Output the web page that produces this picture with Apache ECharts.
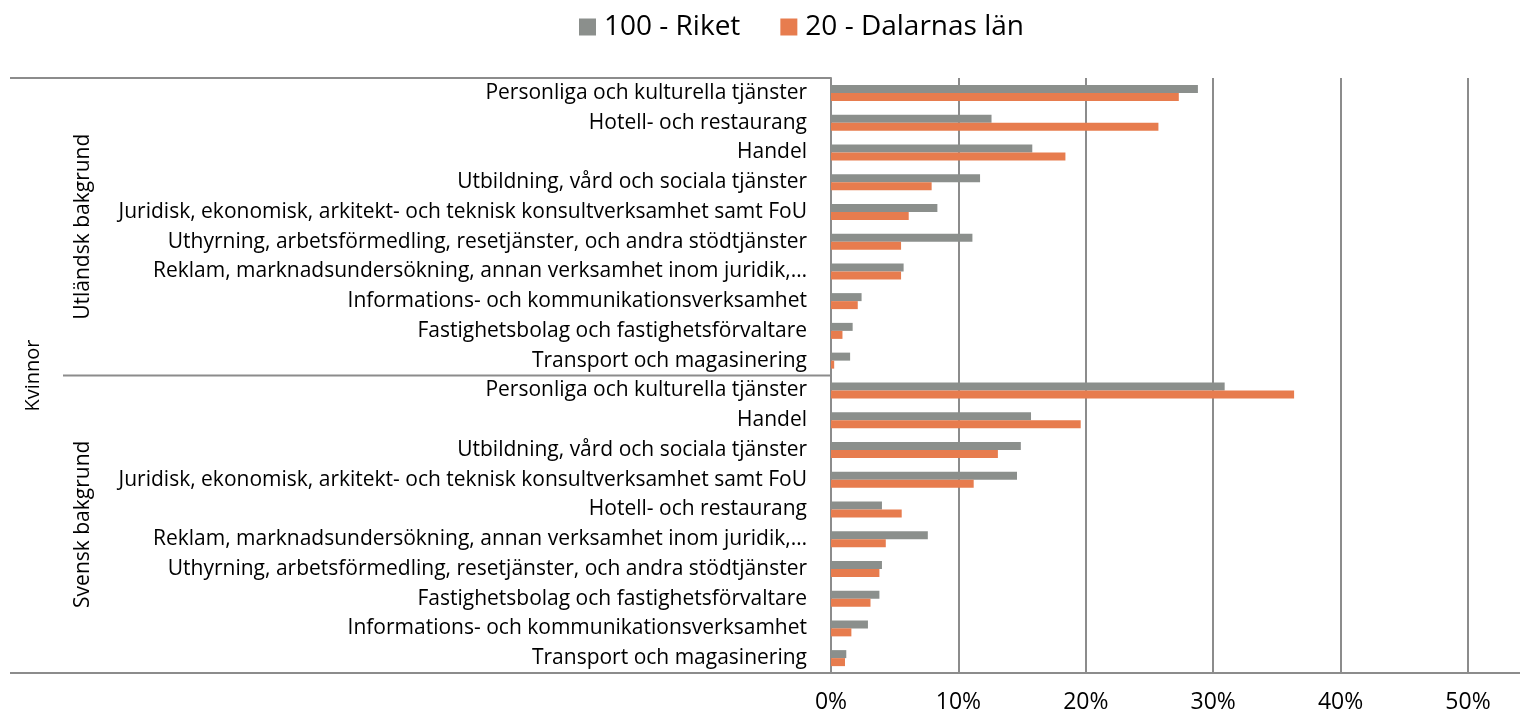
<!DOCTYPE html>
<html>
<head>
<meta charset="utf-8">
<script src="https://cdn.jsdelivr.net/npm/echarts@6/dist/echarts.min.js"></script>
<style>
	html,body{margin:0;padding:0;background:#fff;}
	#chart{width:1529px;height:718px;}
</style>
</head>
<body>
<div id="chart"></div>
<script>
var seriesNames = ['100 - Riket', '20 - Dalarnas län'];
var groupNames = ['Utländsk bakgrund', 'Svensk bakgrund'];
var outerName = 'Kvinnor';

var labelsUtl = [
	'Personliga och kulturella tjänster',
	'Hotell- och restaurang',
	'Handel',
	'Utbildning, vård och sociala tjänster',
	'Juridisk, ekonomisk, arkitekt- och teknisk konsultverksamhet samt FoU',
	'Uthyrning, arbetsförmedling, resetjänster, och andra stödtjänster',
	'Reklam, marknadsundersökning, annan verksamhet inom juridik,…',
	'Informations- och kommunikationsverksamhet',
	'Fastighetsbolag och fastighetsförvaltare',
	'Transport och magasinering'
];
var labelsSve = [
	'Personliga och kulturella tjänster',
	'Handel',
	'Utbildning, vård och sociala tjänster',
	'Juridisk, ekonomisk, arkitekt- och teknisk konsultverksamhet samt FoU',
	'Hotell- och restaurang',
	'Reklam, marknadsundersökning, annan verksamhet inom juridik,…',
	'Uthyrning, arbetsförmedling, resetjänster, och andra stödtjänster',
	'Fastighetsbolag och fastighetsförvaltare',
	'Informations- och kommunikationsverksamhet',
	'Transport och magasinering'
];

var riketUtl   = [0.288, 0.126, 0.158, 0.117, 0.0835, 0.111, 0.057, 0.024, 0.017, 0.015];
var dalarnaUtl = [0.273, 0.257, 0.184, 0.079, 0.061, 0.055, 0.055, 0.021, 0.009, 0.0025];
var riketSve   = [0.309, 0.157, 0.149, 0.146, 0.040, 0.076, 0.040, 0.038, 0.029, 0.012];
var dalarnaSve = [0.3635, 0.196, 0.131, 0.112, 0.0555, 0.043, 0.038, 0.031, 0.016, 0.011];

var xTicks = [0, 0.1, 0.2, 0.3, 0.4, 0.5];

// layout
var gridLeft = 831, gridTop = 78, gridBottomY = 673, gridRightX = 1468;
var lineColor = '#8c8c8c';
var font = '"Open Sans", "Noto Sans", sans-serif';

var labels = labelsUtl.concat(labelsSve);
var keys = labels.map(function(l, i){ return 'c' + i; });

var chart = echarts.init(document.getElementById('chart'));

var midY = (gridTop + gridBottomY) / 2;

chart.setOption({
	animation: false,
	textStyle: {fontFamily: font},
	legend: {
		data: seriesNames,
		top: 8,
		left: 574,
		icon: 'rect',
		itemWidth: 17,
		itemHeight: 17,
		itemGap: 40,
		textStyle: {fontSize: 28, lineHeight: 28, color: '#000', fontFamily: font, padding: [0, 0, 0, 3]}
	},
	grid: {
		left: gridLeft,
		top: gridTop,
		width: gridRightX - gridLeft,
		height: gridBottomY - gridTop
	},
	xAxis: {
		type: 'value',
		min: xTicks[0],
		max: xTicks[xTicks.length - 1],
		interval: 0.1,
		axisLine: {show: false},
		axisTick: {show: false},
		splitLine: {lineStyle: {color: lineColor, width: 2}},
		axisLabel: {
			fontSize: 23,
			color: '#000',
			margin: 18,
			formatter: function(v){ return Math.round(v * 100) + '%'; }
		}
	},
	yAxis: {
		type: 'category',
		inverse: true,
		data: keys,
		axisLine: {lineStyle: {color: lineColor, width: 2}},
		axisTick: {show: false},
		axisLabel: {
			fontSize: 21,
			color: '#000',
			margin: 24,
			formatter: function(v, i){ return labels[i]; }
		}
	},
	series: [
		{
			name: seriesNames[0],
			type: 'bar',
			data: riketUtl.concat(riketSve),
			barWidth: 8,
			barGap: '0%',
			itemStyle: {color: '#8b8f8c'}
		},
		{
			name: seriesNames[1],
			type: 'bar',
			data: dalarnaUtl.concat(dalarnaSve),
			barWidth: 8,
			itemStyle: {color: '#e77c4e'}
		}
	],
	graphic: [
		// top line of the category axis
		{type: 'line', shape: {x1: 10, y1: gridTop, x2: gridLeft, y2: gridTop}, style: {stroke: lineColor, lineWidth: 2}},
		// group separator
		{type: 'line', shape: {x1: 63, y1: midY, x2: gridLeft, y2: midY}, style: {stroke: lineColor, lineWidth: 2}},
		// bottom line
		{type: 'line', shape: {x1: 10, y1: gridBottomY, x2: 1520, y2: gridBottomY}, style: {stroke: lineColor, lineWidth: 2}},
		{type: 'text', x: 83, y: (gridTop + midY) / 2, rotation: Math.PI / 2,
			style: {text: groupNames[0], fontSize: 21, fontFamily: font, fill: '#000', align: 'center', verticalAlign: 'middle'}},
		{type: 'text', x: 83, y: (midY + gridBottomY) / 2, rotation: Math.PI / 2,
			style: {text: groupNames[1], fontSize: 21, fontFamily: font, fill: '#000', align: 'center', verticalAlign: 'middle'}},
		{type: 'text', x: 33, y: midY, rotation: Math.PI / 2,
			style: {text: outerName, fontSize: 20, fontFamily: font, fill: '#000', align: 'center', verticalAlign: 'middle'}}
	]
});
</script>
</body>
</html>
